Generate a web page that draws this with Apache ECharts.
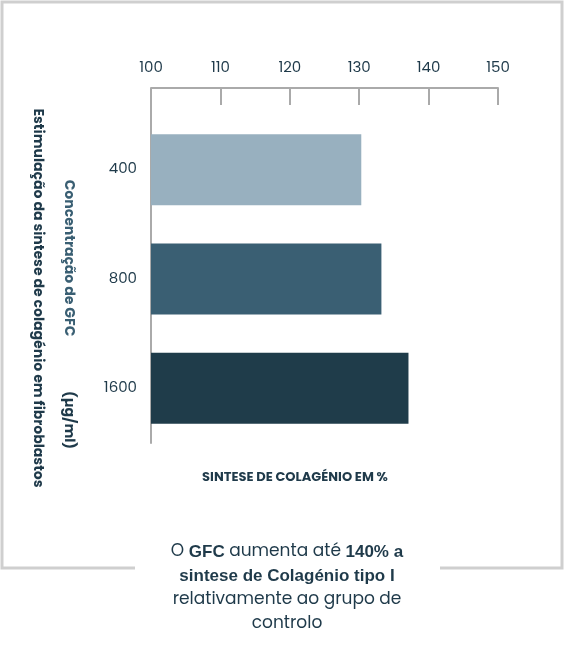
<!DOCTYPE html>
<html><head><meta charset="utf-8">
<script src="https://cdn.jsdelivr.net/npm/echarts@6/dist/echarts.min.js"></script>
<style>html,body{margin:0;padding:0;background:#fff}#c{width:568px;height:650px}</style>
</head><body><div id="c"></div>
<script>
var categories = ["400", "800", "1600"];
var values = [130.3, 133.2, 137.1];
var barColors = ["#98b0bf", "#3a5f73", "#1f3c4a"];
var xTicks = [100, 110, 120, 130, 140, 150];

var chart = echarts.init(document.getElementById("c"));
var font = "Poppins, 'Open Sans', Lato, sans-serif";
var dark = "#1f3a4a";
chart.setOption({
  animation: false,
  textStyle: { fontFamily: font },
  grid: { left: 151, right: 70, top: 115, bottom: 207 },
  xAxis: {
    type: "value", position: "top", offset: 27,
    min: xTicks[0], max: xTicks[xTicks.length - 1], interval: 10,
    axisLine: { show: true, lineStyle: { color: "#aaa", width: 2 } },
    axisTick: { show: true, inside: true, length: 17, lineStyle: { color: "#aaa", width: 2 } },
    splitLine: { show: false },
    axisLabel: { color: dark, fontSize: 15, margin: 12 }
  },
  yAxis: {
    type: "category", data: categories, inverse: true,
    axisLine: { lineStyle: { color: "#aaa", width: 2 } },
    axisTick: { inside: true, length: 14, lineStyle: { color: "#aaa", width: 2 } },
    axisLabel: { color: dark, fontSize: 15, margin: 14 }
  },
  series: [{
    type: "bar", barWidth: 71,
    data: values.map(function (v, i) { return { value: v, itemStyle: { color: barColors[i] } }; })
  }],
  graphic: [
    { type: "polyline", shape: { points: [[135, 568], [2, 568], [2, 2], [562, 2], [562, 568], [440, 568]] },
      style: { stroke: "#cfcfcf", lineWidth: 3, fill: null } },
    { type: "line", shape: { x1: 151, y1: 88, x2: 151, y2: 116 }, style: { stroke: "#aaa", lineWidth: 2 } },
    { type: "text", x: 295, y: 478, style: { text: "SINTESE DE COLAGÉNIO EM %", fill: dark, font: "bold 13px " + font, textAlign: "center", textVerticalAlign: "middle" } },
    { type: "text", x: 37, y: 298, rotation: -Math.PI / 2, style: { text: "Estimulação da sintese de colagénio em fibroblastos", fill: dark, font: "bold 14px " + font, textAlign: "center", textVerticalAlign: "middle" } },
    { type: "text", x: 68, y: 258, rotation: -Math.PI / 2, style: { text: "Concentração de GFC", fill: "#3a5f73", font: "bold 14px " + font, textAlign: "center", textVerticalAlign: "middle" } },
    { type: "text", x: 68, y: 420, rotation: -Math.PI / 2, style: { text: "(µg/ml)", fill: dark, font: "bold 14px " + font, textAlign: "center", textVerticalAlign: "middle" } },
    { type: "text", x: 287, y: 551, style: { rich: {}, text: "", } },
    { type: "text", x: 287, y: 588, style: {
      text: "O {b|GFC} aumenta até {b|140% a}\n{b|sintese de Colagénio tipo I}\nrelativamente ao grupo de\ncontrolo",
      fill: dark, font: "17px " + font, lineHeight: 24, textAlign: "center", textVerticalAlign: "middle",
      rich: { b: { fontWeight: "bold", fontSize: 17, fill: dark, lineHeight: 24 } } } }
  ]
});
</script></body></html>
